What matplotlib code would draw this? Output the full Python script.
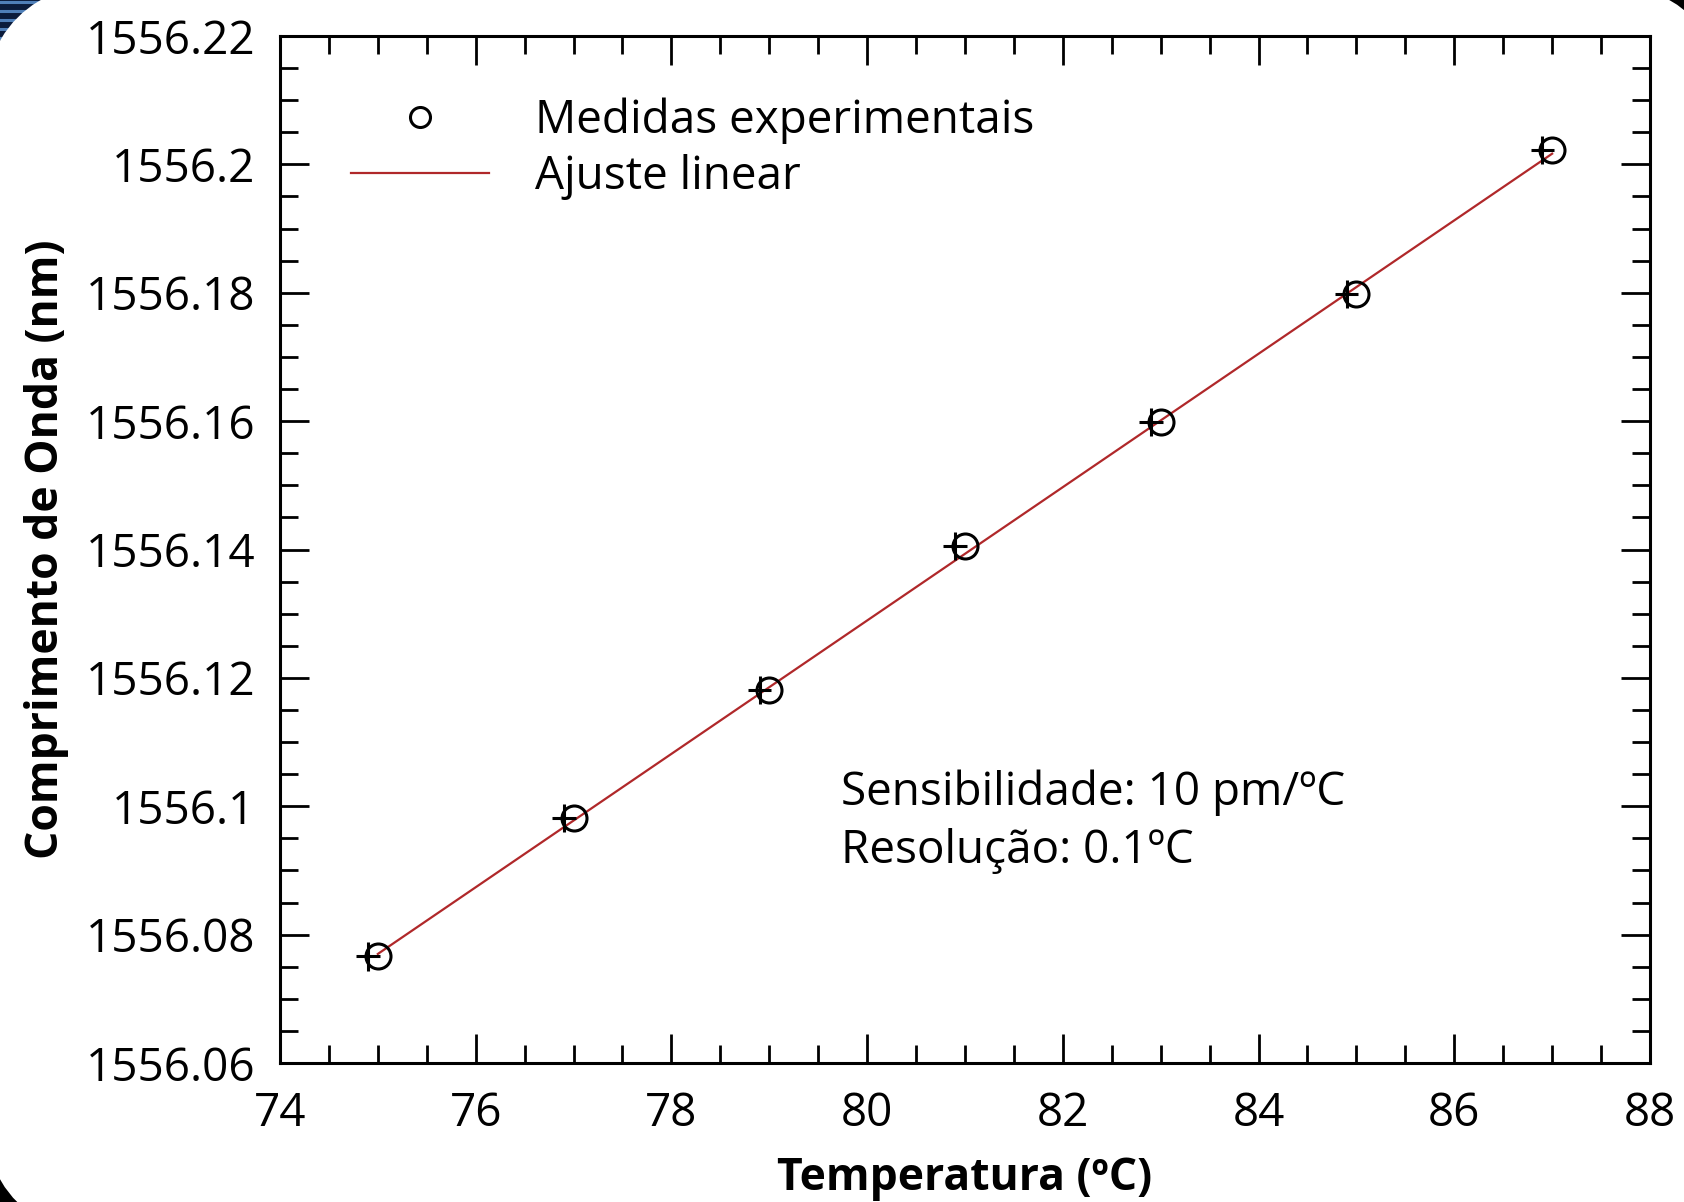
import matplotlib.pyplot as plt
import numpy as np
from matplotlib.patches import FancyBboxPatch, Rectangle
from matplotlib.ticker import MultipleLocator

# medidas do sensor
temperatura = [75, 77, 79, 81, 83, 85, 87]
comprimento = [1556.0766, 1556.0982, 1556.1181, 1556.1405, 1556.1599, 1556.1798, 1556.2022]
erro_t = 0.12
erro_l = 0.0022

# ajuste linear
coef = np.polyfit(temperatura, comprimento, 1)
t_fit = np.array([temperatura[0], temperatura[-1]])
l_fit = np.polyval(coef, t_fit)

plt.rcParams['font.family'] = ['Open Sans', 'DejaVu Sans']

W, H = 1684, 1202
fig = plt.figure(figsize=(W / 100, H / 100), dpi=100, facecolor='black')

# fundo: moldura arredondada sobre o slide
bg = fig.add_axes([0, 0, 1, 1])
bg.set_xlim(0, W)
bg.set_ylim(H, 0)
bg.axis('off')
bg.add_patch(Rectangle((0, 0), 200, 200, color='#0b1c3c', zorder=0))
for yy in range(2, 200, 9):
    bg.plot([0, 200], [yy, yy], color='#4f7fb8', lw=2.2, zorder=1)
bg.add_patch(FancyBboxPatch((130, 130), W + 46 - 280, H + 18 - 260,
                            boxstyle='round,pad=150', fc='white', ec='none', zorder=2))

ax = fig.add_axes([280 / W, 1 - 1063 / H, 1370 / W, 1027 / H])
ax.set_facecolor('white')

ax.plot(t_fit, l_fit, color='#b0282a', lw=1.6, label='Ajuste linear', zorder=2)
ax.errorbar(np.array(temperatura) - 0.1, comprimento, xerr=erro_t, yerr=erro_l,
            fmt='none', ecolor='black', elinewidth=2.2, capsize=0, zorder=3)
ax.plot(temperatura, comprimento, 'o', mfc='none', mec='black', mew=2.2, ms=18,
        label='Medidas experimentais', zorder=4)

ax.set_xlim(74, 88)
ax.set_ylim(1556.06, 1556.22)
ax.xaxis.set_major_locator(MultipleLocator(2))
ax.xaxis.set_minor_locator(MultipleLocator(0.5))
ax.yaxis.set_major_locator(MultipleLocator(0.02))
ax.yaxis.set_minor_locator(MultipleLocator(0.005))
ax.yaxis.set_major_formatter(plt.FuncFormatter(lambda v, p: f'{v:.2f}'.rstrip('0').rstrip('.')))

ax.tick_params(which='both', direction='in', top=True, right=True, width=2, labelsize=33)
ax.tick_params(which='major', length=21)
ax.tick_params(which='minor', length=13)
ax.tick_params(axis='y', pad=18)
ax.tick_params(axis='x', pad=20)
for s in ax.spines.values():
    s.set_linewidth(2.2)

ax.set_xlabel('Temperatura (ºC)', fontsize=32, fontweight='bold', labelpad=14)
ax.set_ylabel('Comprimento de Onda (nm)', fontsize=32, fontweight='bold', labelpad=12)

handles, labels = ax.get_legend_handles_labels()
ax.legend(handles[::-1], labels[::-1], loc='upper left', bbox_to_anchor=(0.052, 0.94),
          frameon=False, fontsize=33, handlelength=3.0, handletextpad=1.0,
          labelspacing=0.22, borderaxespad=0, borderpad=0, markerscale=0.8)

ax.text(0.4095, 0.235, 'Sensibilidade: 10 pm/ºC\nResolução: 0.1ºC',
        transform=ax.transAxes, fontsize=33, va='center', ha='left', linespacing=1.32)

fig.savefig('out.png', dpi=100, facecolor='black')
